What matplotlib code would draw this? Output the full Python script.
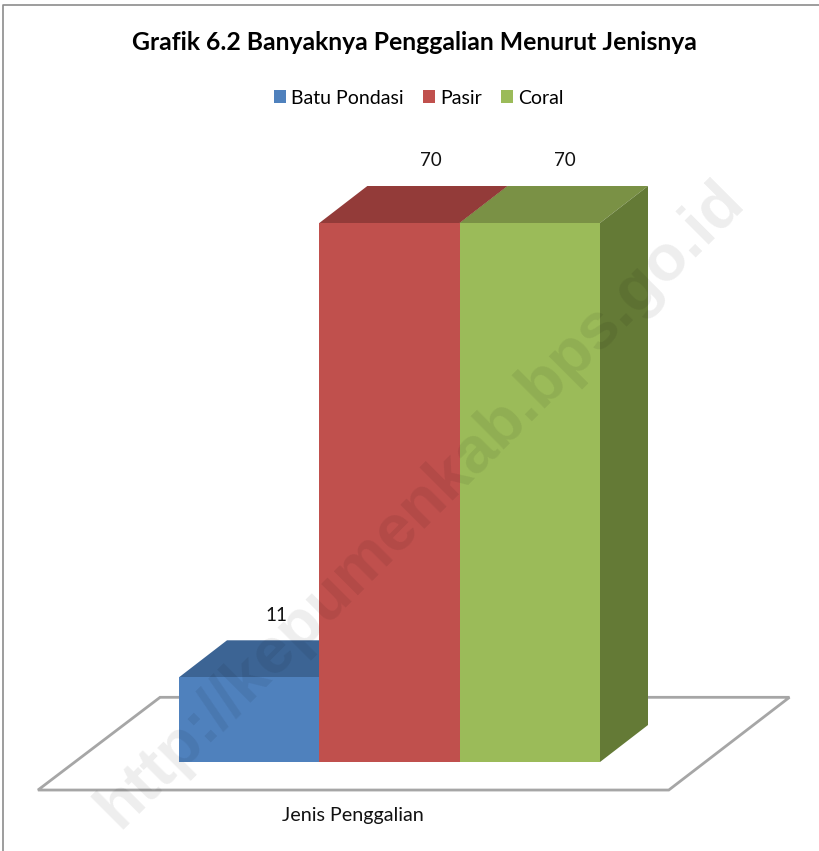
import matplotlib
matplotlib.use('Agg')
import matplotlib.pyplot as plt
from matplotlib import patches
from matplotlib.lines import Line2D

categories = ['Batu Pondasi', 'Pasir', 'Coral']
values = [11, 70, 70]
front_colors = ['#4f81bd', '#c0504d', '#9bbb59']
top_colors = ['#3c6494', '#933b39', '#7a9145']
side_colors = ['#385d8a', '#8c3836', '#647a36']
label_dx = [27, 41, 35]

title = 'Grafik 6.2 Banyaknya Penggalian Menurut Jenisnya'
xlabel = 'Jenis Penggalian'
watermark = 'http://kepumenkab.bps.go.id'

plt.rcParams['font.family'] = ['Lato', 'DejaVu Sans']

W, H = 819, 851
px_x = 421 / 3.0   # pixels per bar
px_y = 539 / 70.0  # pixels per unit
x0, y0 = 179, 762  # pixel of the chart origin
depth_x = 48 / px_x
depth_y = 37 / px_y

fig = plt.figure(figsize=(W / 100.0, H / 100.0), dpi=100)
ax = fig.add_axes([0, 0, 1, 1])
ax.set_xlim(-x0 / px_x, (W - x0) / px_x)
ax.set_ylim((y0 - H) / px_y, y0 / px_y)
ax.axis('off')

# floor of the 3d chart
floor = patches.Polygon([(-1.005, -3.64), (3.49, -3.64), (4.35, 8.4), (-0.135, 8.4)],
                        closed=True, facecolor='white', edgecolor='#a6a6a6', linewidth=2, zorder=1)
ax.add_patch(floor)

for i in range(len(values)):
    v = values[i]
    ax.bar(i, v, width=1.0, align='edge', color=front_colors[i], zorder=4 + i)
    top = patches.Polygon([(i, v), (i + 1, v), (i + 1 + depth_x, v + depth_y), (i + depth_x, v + depth_y)],
                          closed=True, facecolor=top_colors[i], edgecolor='none', zorder=3 + i)
    ax.add_patch(top)
    side = patches.Polygon([(i + 1, 0), (i + 1 + depth_x, depth_y), (i + 1 + depth_x, v + depth_y), (i + 1, v)],
                           closed=True, facecolor=side_colors[i], edgecolor='none', zorder=3 + i)
    ax.add_patch(side)
    ax.annotate(str(v), xy=(i + 0.5, v), xytext=(label_dx[i] * 0.72, 62 * 0.72), textcoords='offset points',
                ha='center', va='center', fontsize=13.5, color='#111111', zorder=10)

# chart area border, only the top and left show
fig.add_artist(Line2D([3 / W, 3 / W, 1], [0, 1 - 4.5 / H, 1 - 4.5 / H], color='#8c8c8c', linewidth=1.2))

fig.text(414.5 / W, 1 - 43 / H, title, ha='center', va='center', fontsize=17.8, fontweight='bold', color='black')
fig.text(352.5 / W, 1 - 815 / H, xlabel, ha='center', va='center', fontsize=14.2, color='#111111')

handles = [patches.Patch(facecolor=c, edgecolor='none', label=n) for c, n in zip(front_colors, categories)]
fig.legend(handles=handles, loc='center', bbox_to_anchor=(418.75 / W, 1 - 98 / H), ncol=3, frameon=False,
           fontsize=14, handlelength=0.62, handleheight=0.62, handletextpad=0.28, columnspacing=0.98,
           borderpad=0)

# site watermark over the chart
fig.text(433 / W, 1 - 516 / H, watermark, ha='center', va='baseline', rotation=45, rotation_mode='anchor',
         family='Liberation Sans', fontsize=47, fontweight='bold', color='black', alpha=0.07, zorder=20)

fig.savefig('out.png', dpi=100)
